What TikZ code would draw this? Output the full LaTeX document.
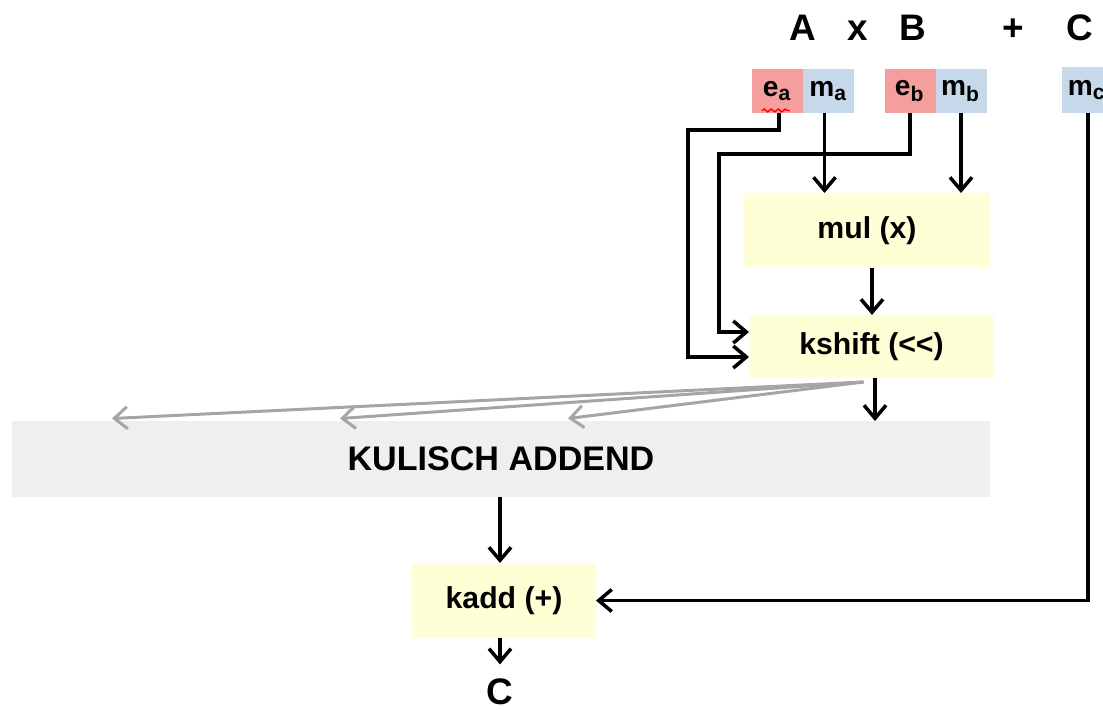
\documentclass[tikz,border=0pt]{standalone}
\usepackage{fontspec}
\setmainfont{Liberation Sans}
\usetikzlibrary{arrows.meta,positioning,decorations.pathmorphing}
\definecolor{expred}{RGB}{245,158,158}
\definecolor{manblue}{RGB}{198,216,234}
\definecolor{opyellow}{RGB}{255,255,214}
\definecolor{addgray}{RGB}{239,239,239}
\definecolor{fanout}{RGB}{165,165,165}
\begin{document}
\begin{tikzpicture}[>={Straight Barb[length=1.3mm,width=2.2mm]},line width=1pt,
    title/.style={anchor=base,inner sep=1pt,font=\fontsize{10.5}{12}\selectfont\bfseries},
    field/.style={minimum width=0.51cm,minimum height=0.44cm,inner sep=0pt,outer sep=0pt,font=\fontsize{8}{9}\selectfont\bfseries},
    expo/.style={field,fill=expred},
    mant/.style={field,fill=manblue},
    op/.style={fill=opyellow,inner sep=0pt,outer sep=0pt,font=\fontsize{8.6}{10}\selectfont\bfseries}]
                \useasboundingbox (0,0) rectangle (11.03,7.09);

                \node[title] (tA) at (8.03,6.69) {A};
                \node[title] (tmul) at (8.58,6.69) {x};
                \node[title] (tB) at (9.13,6.69) {B};
                \node[title] (tplus) at (10.13,6.69) {+};
                \node[title] (tC) at (10.80,6.69) {C};

                \node[expo] (ea) at (7.775,6.18) {e\textsubscript{a}};
                \node[mant,right=0pt of ea] (ma) {m\textsubscript{a}};
                \node[expo] (eb) at (9.10,6.18) {e\textsubscript{b}};
                \node[mant,right=0pt of eb] (mb) {m\textsubscript{b}};
                \node[mant,minimum width=0.5cm,minimum height=0.46cm] (mc) at (10.87,6.19) {m\textsubscript{c}};
                \draw[red,line width=0.4pt,decorate,decoration={snake,amplitude=0.4pt,segment length=2pt}] (7.62,5.985)--(7.90,5.985);

                \node[op,minimum width=2.46cm,minimum height=0.75cm] (mul) at (8.67,4.785) {mul (x)};
                \node[op,minimum width=2.45cm,minimum height=0.63cm] (kshift) at (8.715,3.625) {kshift (<\kern0pt<)};
                \node[fill=addgray,inner sep=0pt,outer sep=0pt,minimum width=9.78cm,minimum height=0.76cm,
                      font=\fontsize{9.7}{11}\selectfont\bfseries] (kul) at (5.01,2.50) {KULISCH ADDEND};
                \node[op,minimum width=1.84cm,minimum height=0.75cm] (kadd) at (5.04,1.085) {kadd (+)};
                \node[title,anchor=center,inner sep=3.5pt] (cout) at (5.00,0.175) {C};

                \draw[->] ([xshift=0.015cm]ea.south) |- (6.88,5.79) |- ([yshift=-0.105cm]kshift.west);
                \draw[->] (eb.south) |- (7.19,5.55) |- ([yshift=0.145cm]kshift.west);
                \draw[->] ([xshift=-0.04cm]ma.south) -- ([xshift=-0.04cm]ma.south |- mul.north);
                \draw[->] (mb.south) -- (mb.south |- mul.north);
                \draw[->] ([xshift=0.05cm]mul.south) -- ([xshift=0.05cm]mul.south |- kshift.north);
                \draw[->] ([xshift=0.035cm]kshift.south) -- ([xshift=0.035cm]kshift.south |- kul.north);

                \foreach \x [count=\i] in {1.12,3.40,5.68} {
                    \coordinate (fan\i) at (\x,2.905);
                    \draw[->,fanout,line width=0.85pt] ([xshift=-0.08cm,yshift=-0.04cm]kshift.south) -- (fan\i);
                }

                \draw[->] (kul.south -| cout) -- (kadd.north -| cout);
                \draw[->] ([xshift=0.01cm]mc.south) |- (kadd.east);
                \draw[->] (kadd.south -| cout) -- (cout.north);
            \end{tikzpicture}
\end{document}
